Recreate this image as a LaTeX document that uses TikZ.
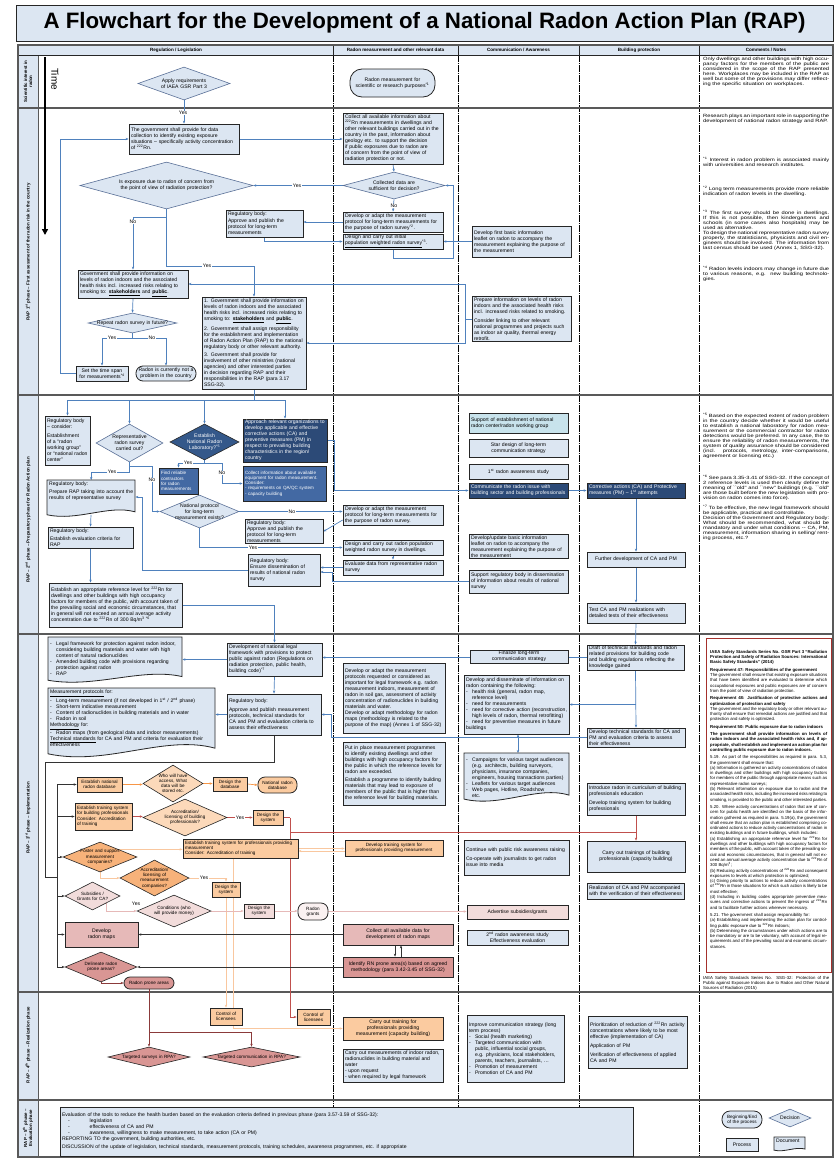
\documentclass[tikz,border=0pt]{standalone}
\usepackage{fontspec}
\setmainfont{Liberation Sans}
\usetikzlibrary{arrows.meta,shapes.geometric,calc}
\definecolor{lb}{HTML}{DCE6F2}
\definecolor{bordc}{HTML}{262626}
\definecolor{arrc}{HTML}{4F81BD}
\definecolor{diab}{HTML}{5A7097}
\definecolor{dkb}{HTML}{2C4A77}
\definecolor{mdb}{HTML}{4369A3}
\definecolor{dkd}{HTML}{34588A}
\definecolor{cyn}{HTML}{C8E3EC}
\definecolor{orf}{HTML}{FBCBA0}
\definecolor{orl}{HTML}{FCD9BA}
\definecolor{ord}{HTML}{F7B27A}
\definecolor{ora}{HTML}{F79646}
\definecolor{orla}{HTML}{F9C79F}
\definecolor{redl}{HTML}{C0504D}
\definecolor{pk1}{HTML}{F2DCDB}
\definecolor{pk2}{HTML}{E6B9B8}
\definecolor{pk3}{HTML}{D99694}
\definecolor{brn}{HTML}{8B3A3A}
\definecolor{rowl}{HTML}{595959}
\definecolor{rbx}{HTML}{A5302C}
\newfontfamily\titlefam{Liberation Sans}
\newfontfamily\cmfam{Liberation Sans}[FakeStretch=1.25]
\hyphenpenalty=10000
\exhyphenpenalty=10000
\newcommand\fs{\fontsize{5.1}{6}\selectfont}
\newcommand\fss{\fontsize{4.6}{5.2}\selectfont}
\newcommand\dfnt{\fs}
\newcommand\fc{\cmfam\fontsize{4.6}{5}\selectfont\hyphenpenalty=50 }
\newcommand\fr{\fontsize{4.3}{5.3}\selectfont\hyphenpenalty=50 }
\newcommand\fph{\fontsize{4.4}{5}\selectfont\bfseries}
\newcommand\fhd{\fontsize{4.6}{5}\selectfont\bfseries}
\newcommand\li{\par\hangindent=6pt\hangafter=1\noindent\makebox[6pt][l]{-}}
\newcommand\bx[7]{%
  \pgfmathsetmacro\bxw{#4-#2}\pgfmathsetmacro\bxh{#5-#3}%
  \pgfmathsetmacro\bxtw{#4-#2-4}%
  \pgfmathsetmacro\bxcx{(#2+#4)/2}\pgfmathsetmacro\bxcy{(#3+#5)/2}%
  \node[#6,minimum width=\bxw pt,minimum height=\bxh pt,text width=\bxtw pt] (#1) at (\bxcx,\bxcy) {#7};}
\newcommand\dm[8]{%
  \pgfmathsetmacro\bxw{#4-#2}\pgfmathsetmacro\bxh{#5-#3}%
  \pgfmathsetmacro\bxcx{(#2+#4)/2}\pgfmathsetmacro\bxcy{(#3+#5)/2}%
  \pgfmathsetmacro\bxa{(#4-#2)/(#5-#3)}%
  \node[dia,#6,minimum width=\bxw pt,minimum height=\bxh pt,aspect=\bxa,
    label={[dtxt,text width=#7pt]center:{#8}}] (#1) at (\bxcx,\bxcy) {};}
\newcommand\dc[7]{%
  \pgfmathsetmacro\bxtw{#4-#2-4}%
  \path[docsh,fill=#6] (#4,#3) -- (#2,#3) -- (#2,{#5-0.06*(#5-#3)})
    .. controls ({#2+0.35*(#4-#2)},{#5+0.12*(#5-#3)}) and ({#2+0.7*(#4-#2)},{#5-0.34*(#5-#3)})
    .. (#4,{#5-0.14*(#5-#3)}) -- cycle;
  \node[anchor=north west,inner sep=2pt,text width=\bxtw pt,align=left] (#1) at (#2,#3) {#7};
  \coordinate (#1-b) at ({(#2+#4)/2},{#5-0.06*(#5-#3)});}
\pgfdeclarelayer{back}
\pgfdeclarelayer{mid}
\pgfsetlayers{back,mid,main}
\begin{document}
\begin{tikzpicture}[x=1pt,y=-1pt,
  every node/.style={font=\fs},
  box/.style={draw=bordc,line width=0.8pt,fill=lb,inner xsep=2pt,inner ysep=1pt,align=left},
  cbox/.style={box,align=center},
  dbox/.style={box,fill=dkb,text=white},
  mbox/.style={box,fill=mdb,text=white},
  obox/.style={box,fill=orf,font=\fss},
  ocbox/.style={cbox,fill=orf,font=\fss},
  pkabox/.style={cbox,fill=pk1},
  pkbbox/.style={cbox,fill=pk2},
  pkcbox/.style={cbox,fill=pk3},
  stad/.style={cbox,rounded corners=#1},
  dia/.style={diamond,draw=diab,line width=0.6pt,fill=lb,inner sep=0pt},
  dtxt/.style={align=center,inner sep=0pt,font=\dfnt},
  docsh/.style={draw=bordc,line width=0.8pt},
  arr/.style={draw=arrc,line width=0.7pt,-{Stealth[length=3pt,width=2.4pt]}},
  ln/.style={draw=arrc,line width=0.7pt},
  oarr/.style={arr,draw=ora},
  rarr/.style={arr,draw=redl},
  rln/.style={draw=redl,line width=0.7pt},
  larr/.style={arr,draw=orla},
  parr/.style={arr,draw=pk2},
  karr/.style={arr,draw=black!80},
  kln/.style={draw=black!80,line width=0.7pt},
  barr/.style={arr,draw=brn},
  bln/.style={draw=brn,line width=0.8pt},
  lbl/.style={fill=white,inner sep=0.5pt,font=\fs},
  cmt/.style={anchor=north west,inner sep=0pt,text width=126pt,align=justify,font=\fc},
  rowline/.style={draw=rowl,line width=1.2pt},
  colline/.style={draw=black,line width=0.7pt,dash pattern=on 7pt off 1pt on 1pt off 1pt},
  phs/.style={rotate=90,font=\fph,align=center},
]
\useasboundingbox (0,0) rectangle (836,1159);
\begin{pgfonlayer}{back}
\fill[white] (0,0) rectangle (836,1159);
\fill[lb] (18,45) rectangle (833,55);
\fill[lb] (18,55) rectangle (38,1157);
\foreach \xx in {333,458,579,699} \draw[colline] (\xx,55) -- (\xx,1157);
\foreach \yy in {108,395,634,992,1100} \draw[rowline] (18,\yy) -- (833,\yy);
\draw[rowl,line width=0.8pt] (38,55) -- (38,1157);
\draw[bordc,line width=0.6pt] (18,55) -- (833,55);
\foreach \xx in {333,458,579,699} \draw[bordc,line width=0.6pt] (\xx,45) -- (\xx,55);
\draw[rowl,line width=1.2pt] (18,45) rectangle (833,1157);
\end{pgfonlayer}
% title and headers
\node[draw=bordc,line width=0.9pt,fill=lb,minimum width=817pt,minimum height=36pt,inner sep=0pt,
  font=\titlefam\fontsize{22.3}{24}\selectfont\bfseries] (title) at (424.5,23) {A Flowchart for the Development of a National Radon Action Plan (RAP)};
\node[font=\fhd] (h1) at (176,50) {Regulation / Legislation};
\node[font=\fhd] (h2) at (395.5,50) {Radon measurement and other relevant data};
\node[font=\fhd] (h3) at (518.5,50) {Communication / Awareness};
\node[font=\fhd] (h4) at (639,50) {Building protection};
\node[font=\fhd] (h5) at (766,50) {Comments / Notes};
% phase labels
\node[phs] (p1) at (28,81.5) {Scientific interest in\\radon};
\node[phs] (p2) at (28,252) {RAP 1\textsuperscript{st} phase -- First assessment of the radon risk in the country};
\node[phs] (p3) at (28,520) {RAP -- 2\textsuperscript{nd} phase -- Preparatory phase for Radon Action plan};
\node[phs] (p4) at (28,818) {RAP -- 3\textsuperscript{rd} phase -- Implementation};
\node[phs] (p5) at (28,1045) {RAP -- 4\textsuperscript{th} phase -- Realization phase};
\node[phs,text width=50pt] (p6) at (28,1128) {RAP -- 5\textsuperscript{th} phase -- Evaluation phase};
% time arrow
\coordinate (t0) at (45,57);
\coordinate (t1) at (45,235);
\draw[line width=2.2pt,-{Triangle[length=6pt,width=6pt]}] (t0) -- (t1);
\node[rotate=-90,font=\fontsize{10}{10}\selectfont] (time) at (55,79) {Time};

% ===== Scientific interest
\dm{A0}{138}{67}{230}{100}{}{56}{Apply requirements of IAEA GSR Part 3}
\bx{S1}{350}{69}{435}{97}{stad=12}{Radon measurement for scientific or research purposes\textsuperscript{*1}}
\node[cmt] (c0) at (703,57) {Only dwellings and other buildings with high occupancy factors for the members of the public are considered in the scope of the RAP presented here. Workplaces may be included in the RAP as well but some of the provisions may differ reflecting the specific situation on workplaces.};

% ===== 1st phase
\bx{G1}{129}{124}{239}{154}{box}{The government shall provide for data collection to identify existing exposure situations -- specifically activity concentration of \textsuperscript{222}Rn.}
\bx{C1}{343}{113}{443}{164}{box}{Collect all available information about \textsuperscript{222}Rn measurements in dwellings and other relevant buildings carried out in the country in the past, information about geology etc. to support the decision if public exposures due to radon are of concern from the point of view of radiation protection or not.}
\dm{D1}{80}{162}{253}{209}{}{106}{Is exposure due to radon of concern from the point of view of radiation protection?}
\dm{D2}{343}{172}{445}{199}{}{68}{Collected data are sufficient for decision?}
\bx{M1}{343}{212}{443}{232}{box}{Develop or adapt the measurement protocol for long-term measurements for the purpose of radon survey\textsuperscript{*2}.}
\bx{M2}{343}{234}{443}{249}{box}{Design and carry out initial \underline{population weighted radon survey}\textsuperscript{*3}.}
\bx{R1}{226}{210}{303}{237}{box}{Regulatory body:\\[1pt]Approve and publish the protocol for long-term measurements}
\bx{CM1}{472}{226}{571}{257}{box}{Develop first basic information leaflet on radon to accompany the measurement explaining the purpose of the measurement}
\bx{G2}{78}{270}{188}{298}{box}{Government shall provide information on levels of radon indoors and the associated health risks incl. increased risks relating to smoking to: \underline{\textbf{stakeholders}} and \underline{\textbf{public}}.}
\dm{D3}{88}{313}{177}{333}{}{76}{Repeat radon survey in future?}
\bx{G4}{76}{366}{128}{381}{cbox}{Set the time span for measurements\textsuperscript{*4}}
\bx{ST1}{136}{366}{196}{381}{stad=7}{Radon is currently not a problem in the country}
\bx{G3}{202}{297}{306}{389}{box}{1. Government shall provide information on levels of radon indoors and the associated health risks incl. increased risks relating to smoking to: \underline{\textbf{stakeholders}} and \underline{\textbf{public}}.\\[2pt]2. Government shall assign responsibility for the establishment and implementation of Radon Action Plan (RAP) to the national regulatory body or other relevant authority.\\[2pt]3. Government shall provide for involvement of other ministries (national agencies) and other interested parties in decision regarding RAP and their responsibilities in the RAP (para 3.17 SSG-32).}
\bx{CM2}{472}{297}{571}{341}{box}{Prepare information on levels of radon indoors and the associated health risks incl. increased risks related to smoking.\\[3pt]Consider linking to other relevant national programmes and projects such as indoor air quality, thermal energy retrofit.}
\node[cmt] (c1) at (703,114) {Research plays an important role in supporting the development of national radon strategy and RAP.};
\node[cmt] (c2) at (703,157) {\textsuperscript{*1} Interest in radon problem is associated mainly with universities and research institutes.};
\node[cmt] (c3) at (703,186) {\textsuperscript{*2} Long term measurements provide more reliable indication of radon levels in the dwelling.};
\node[cmt] (c4) at (703,210) {\textsuperscript{*3} The first survey should be done in dwellings. If this is not possible, then kindergartens and schools (in some cases also hospitals) may be used as alternative.\par To design the national representative radon survey properly, the statisticians, physicists and civil engineers should be involved. The information from last census should be used (Annex 1, SSG-32).};
\node[cmt] (c5) at (703,266) {\textsuperscript{*4} Radon levels indoors may change in future due to various reasons, e.g. new building technologies.};

% ===== 2nd phase
\bx{B1}{45}{416}{90}{465}{box}{Regulatory body -- consider:\\[3pt]Establishment of a ``radon working group'' or ``national radon center''}
\dm{D4}{96}{424}{163}{462}{}{46}{Representative radon survey carried out?}
\dm{D5}{170}{424}{239}{460}{fill=dkd,draw=bordc}{44}{\color{white}Establish National Radon Laboratory?\textsuperscript{*5}}
\bx{B2}{243}{419}{327}{462}{dbox}{Approach relevant organizations to develop applicable and effective corrective actions (CA) and preventive measures (PM) in respect to prevailing building characteristics in the region/ country}
\bx{B3}{159}{468}{198}{494}{mbox,font=\fss}{Find reliable contractors for radon measurements}
\bx{B4}{243}{466}{326}{501}{mbox,font=\fss}{Collect information about available equipment for radon measurement.\\Consider:\\- requirements on QA/QC system\\- capacity building}
\dc{B5}{47}{480}{135}{517}{lb}{Regulatory body:\\[2pt]Prepare RAP taking into account the results of representative survey}
\dm{D6}{160}{495}{239}{528}{}{50}{National protocol for long-term measurement exists?}
\bx{B6}{245}{520}{323}{543}{box}{Regulatory body:\\Approve and publish the protocol for long-term measurements}
\bx{B7}{248}{554}{320}{586}{box}{Regulatory body:\\Ensure dissemination of results of national radon survey}
\bx{B8}{48}{527}{133}{548}{box}{Regulatory body:\\[2pt]Establish evaluation criteria for RAP}
\bx{B9}{49}{583}{182}{627}{box}{Establish an appropriate reference level for \textsuperscript{222}Rn for dwellings and other buildings with high occupancy factors for members of the public, with account taken of the prevailing social and economic circumstances, that in general will not exceed an annual average activity concentration due to \textsuperscript{222}Rn of 300 Bq/m\textsuperscript{3 *6}}
\bx{M3}{343}{505}{443}{525}{box}{Develop or adapt the measurement protocol for long-term measurements for the purpose of radon survey.}
\bx{M4}{343}{540}{443}{555}{box}{Design and carry out radon population weighted radon survey in dwellings.}
\bx{M5}{343}{560}{443}{575}{box}{Evaluate data from representative radon survey}
\bx{CM3}{469}{413}{568}{433}{box,fill=cyn}{Support of establishment of national radon center/radon working group}
\bx{CM4}{469}{439}{568}{457}{cbox}{Star design of long-term communication strategy}
\bx{CM5}{469}{464}{568}{479}{cbox}{1\textsuperscript{st} radon awareness study}
\bx{CM6}{469}{483}{568}{498}{dbox}{Communicate the radon issue with building sector and building professionals}
\bx{CM7}{469}{535}{568}{558}{box}{Develop/update basic information leaflet on radon to accompany the measurement explaining the purpose of the measurement}
\bx{CM8}{469}{570}{568}{593}{box}{Support regulatory body in dissemination of information about results of national survey}
\bx{BP1}{587}{483}{685}{498}{dbox}{Corrective actions (CA) and Protective measures (PM) -- 1\textsuperscript{st} attempts}
\bx{BP2}{587}{552}{685}{567}{cbox}{Further development of CA and PM}
\bx{BP3}{587}{603}{685}{623}{box}{Test CA and PM realizations with detailed tests of their effectiveness}
\node[cmt] (c6) at (703,413) {\textsuperscript{*5} Based on the expected extent of radon problem in the country decide whether it would be useful to establish a national laboratory for radon measurement or the commercial contractor for radon detections would be preferred. In any case, the to ensure the reliability of radon measurements, the system of quality assurance should be considered (incl. protocols, metrology, inter-comparisons, agreement or licensing etc.)};
\node[cmt] (c7) at (703,475) {\textsuperscript{*6} See para 3.35-3.41 of SSG-32. If the concept of 2 reference levels is used then clearly define the meaning of ``old'' and ``new'' buildings (e.g. ``old'' are those built before the new legislation with provision on radon comes into force).};
\node[cmt] (c8) at (703,505) {\textsuperscript{*7} To be effective, the new legal framework should be applicable, practical and controllable.\par Decision of the Government and Regulatory body: What should be recommended, what should be mandatory and under what conditions -- CA, PM, measurement, information sharing in selling/ renting process, etc.?};

% ===== 3rd phase
\dc{L1}{48}{637}{182}{683}{lb}{\li Legal framework for protection against radon indoor, considering building materials and water with high content of natural radionuclides\li Amended building code with provisions regarding protection against radon\li RAP}
\bx{L2}{227}{643}{322}{676}{box}{Development of national legal framework with provisions to protect public against radon (Regulations on radiation protection, public health, building code)\textsuperscript{*7}}
\dc{L3}{48}{688}{215}{758}{lb}{\underline{Measurement protocols} for:\li Long-term measurement (if not developed in 1\textsuperscript{st} / 2\textsuperscript{nd} phase)\li Short-term indicative measurement\li Content of radionuclides in building materials and in water\li Radon in soil\par\noindent\underline{Methodology} for:\li Radon maps (from geological data and indoor measurements)\par\noindent\underline{Technical standards} for CA and PM and criteria for evaluation their effectiveness}
\bx{L4}{227}{694}{321}{735}{box}{Regulatory body:\\[3pt]Approve and publish measurement protocols, technical standards for CA and PM and evaluation criteria to assess their effectiveness}
\bx{L5}{343}{663}{445}{733}{box}{Develop or adapt the measurement protocols requested or considered as important for legal framework e.g. radon measurement indoors, measurement of radon in soil gas, assessment of activity concentration of radionuclides in building materials and water.\\Develop or adapt methodology for radon maps (methodology is related to the purpose of the map) (Annex 1 of SSG-32)}
\bx{L6}{343}{742}{445}{805}{box}{Put in place measurement programmes to identify existing dwellings and other buildings with high occupancy factors for the public in which the reference levels for radon are exceeded.\\[2pt]Establish a programme to identify building materials that may lead to exposure of members of the public that is higher than the reference level for building materials.}
\bx{CMa}{470}{650}{568}{663}{cbox}{Finalize long-term communication strategy}
\bx{CMb}{464}{675}{569}{734}{box}{Develop and disseminate of information on radon containing the following:\li health risk (general, radon map, reference level)\li need for measurements\li need for corrective action (reconstruction, high levels of radon, thermal retrofitting)\li need for preventive measures in future buildings}
\dc{CMc}{464}{753}{569}{802}{lb}{\li Campaigns for various target audiences (e.g. architects, building surveyors, physicians, insurance companies, engineers, housing transactions parties)\li Leaflets for various target audiences\li Web pages, Hotline, Roadshow\par\noindent\hspace{6pt}etc.}
\bx{CMd}{464}{840}{569}{875}{box}{Continue with public risk awareness raising\\[3pt]Co-operate with journalists to get radon issue into media}
\bx{CMe}{467}{905}{568}{919}{pkabox}{Advertise subsidies/grants}
\bx{CMf}{467}{930}{568}{945}{cbox}{2\textsuperscript{nd} radon awareness study\\Effectiveness evaluation}
\bx{BP4}{587}{645}{684}{670}{box}{Draft of technical standards and radon related provisions for building code and building regulations reflecting the knowledge gained}
\bx{BP5}{587}{728}{685}{747}{box}{Develop technical standards for CA and PM and evaluation criteria to assess their effectiveness}
\bx{BP6}{587}{783}{685}{815}{box}{Introduce radon in curriculum of building professionals education\\[3pt]Develop training system for building professionals}
\bx{BP7}{587}{841}{685}{872}{cbox}{Carry out trainings of building professionals (capacity building)}
\bx{BP8}{587}{883}{684}{899}{box}{Realization of CA and PM accompanied with the verification of their effectiveness}
% orange / pink part
\renewcommand\dfnt{\fss}
\bx{O1}{77}{777}{122}{792}{ocbox}{Establish national radon database}
\dm{O2}{143}{765}{203}{802}{fill=orl,draw=bordc}{36}{Who will have access, What data will be stored etc.}
\bx{O3}{213}{777}{247}{791}{ocbox}{Design the database}
\bx{O4}{258}{777}{297}{793}{stad=7,fill=orf,font=\fss}{National radon database}
\bx{O5}{75}{803}{132}{830}{obox}{Establish training system for building professionals\\[1pt]Consider: Accreditation of training}
\dm{O6}{143}{799}{227}{836}{fill=orl,draw=bordc}{48}{Accreditation/ licensing of building professionals?}
\bx{O7}{253}{810}{283}{825}{ocbox}{Design the system}
\dm{O8}{63}{842}{137}{872}{fill=ord,draw=bordc}{42}{Foster and support measurement companies?}
\bx{O9}{183}{839}{298}{858}{obox}{Establish training system for professionals providing measurement\\Consider: Accreditation of training}
\bx{OD}{345}{840}{443}{856}{ocbox}{Develop training system for professionals providing measurement}
\dm{O10}{120}{860}{189}{896}{fill=ord,draw=bordc}{44}{Accreditation/ licensing of measurement companies?}
\bx{O11}{212}{882}{240}{897}{ocbox}{Design the system}
\bx{CL1}{210}{1008}{242}{1025}{ocbox}{Control of licensees}
\bx{CL2}{297}{1009}{330}{1025}{ocbox}{Control of licensees}
\dm{O12}{65}{882}{120}{910}{fill=pk1,draw=bordc}{34}{Subsidies / Grants for CA?}
\dm{O13}{137}{895}{211}{927}{fill=pk1,draw=bordc}{46}{Conditions (who will provide money)}
\bx{O14}{244}{904}{274}{918}{pkabox,font=\fss}{Design the system}
\bx{O15}{298}{903}{328}{920}{stad=7,fill=pk1!40,font=\fss}{Radon grants}
\bx{O16}{65}{922}{138}{947}{pkbbox}{Develop\\radon maps}
\bx{O17}{343}{924}{453}{945}{pkbbox}{Collect all available data for development of radon maps}
\bx{O18}{343}{957}{453}{977}{pkcbox}{Identify RN prone area(s) based on agreed methodology (para 3.42-3.45 of SSG-32)}
\dm{O19}{65}{952}{137}{982}{fill=pk3,draw=bordc}{42}{Delineate radon prone areas?}
\bx{O20}{124}{977}{174}{989}{stad=6,fill=pk3,font=\fss}{Radon prone areas}
% red comment box
\node[draw=rbx,line width=1pt,fill=white,anchor=north west,minimum width=125pt,minimum height=334pt,inner sep=0pt] (rbox) at (706,638) {};
\node[anchor=north west,text width=117pt,align=justify,font=\fr,inner sep=0pt] (rtext) at (710,650) {\textbf{IAEA Safety Standards Series No. GSR Part 3 ``Radiation Protection and Safety of Radiation Sources: International Basic Safety Standards'' (2014)}\par\vspace{2pt}
\textbf{Requirement 47: Responsibilities of the government}\par The government shall ensure that existing exposure situations that have been identified are evaluated to determine which occupational exposures and public exposures are of concern from the point of view of radiation protection.\par\vspace{2pt}
\textbf{Requirement 48: Justification of protective actions and optimization of protection and safety}\par The government and the regulatory body or other relevant authority shall ensure that remedial actions are justified and that protection and safety is optimized.\par\vspace{2pt}
\textbf{Requirement 50: Public exposure due to radon indoors}\par\vspace{2pt}
\textbf{The government shall provide information on levels of radon indoors and the associated health risks and, if appropriate, shall establish and implement an action plan for controlling public exposure due to radon indoors.}\par\vspace{2pt}
5.19. As part of the responsibilities as required in para. 5.3, the government shall ensure that:\par (a) Information is gathered on activity concentrations of radon in dwellings and other buildings with high occupancy factors for members of the public through appropriate means such as representative radon surveys;\par (b) Relevant information on exposure due to radon and the associated health risks, including the increased risks relating to smoking, is provided to the public and other interested parties.\par\vspace{2pt}
5.20. Where activity concentrations of radon that are of concern for public health are identified on the basis of the information gathered as required in para. 5.19(a), the government shall ensure that an action plan is established comprising coordinated actions to reduce activity concentrations of radon in existing buildings and in future buildings, which includes:\par (a) Establishing an appropriate reference level for \textsuperscript{222}Rn for dwellings and other buildings with high occupancy factors for members of the public, with account taken of the prevailing social and economic circumstances, that in general will not exceed an annual average activity concentration due to \textsuperscript{222}Rn of 300 Bq/m\textsuperscript{3};\par (b) Reducing activity concentrations of \textsuperscript{222}Rn and consequent exposures to levels at which protection is optimized;\par (c) Giving priority to actions to reduce activity concentrations of \textsuperscript{222}Rn in those situations for which such action is likely to be most effective;\par (d) Including in building codes appropriate preventive measures and corrective actions to prevent the ingress of \textsuperscript{222}Rn and to facilitate further actions wherever necessary.\par\vspace{2pt}
5.21. The government shall assign responsibility for:\par (a) Establishing and implementing the action plan for controlling public exposure due to \textsuperscript{222}Rn indoors;\par (b) Determining the circumstances under which actions are to be mandatory or are to be voluntary, with account of legal requirements and of the prevailing social and economic circumstances.};
\node[cmt,font=\fr] (c9) at (703,976) {IAEA Safety Standards Series No. SSG-32: Protection of the Public against Exposure Indoors due to Radon and Other Natural Sources of Radiation (2015)};

% ===== 4th phase
\dm{P1}{108}{1047}{190}{1067}{fill=pk3,draw=bordc}{64}{Targeted surveys in RPA?}
\dm{P2}{203}{1047}{300}{1067}{fill=pk3,draw=bordc}{78}{Targeted communication in RPA?}
\renewcommand\dfnt{\fs}
\bx{CT}{343}{1017}{443}{1040}{ocbox,font=\fs}{Carry out training for professionals providing measurement (capacity building)}
\bx{CMM}{343}{1049}{443}{1082}{box}{Carry out measurements of indoor radon, radionuclides in building material and water\\- upon request\\- when required by legal framework}
\bx{CMg}{467}{1015}{564}{1082}{box}{Improve communication strategy (long term process)\li Social (health marketing)\li Targeted communication with public, influential social groups, e.g. physicians, local stakeholders, parents, teachers, journalists, \dots\li Promotion of measurement\li Promotion of CA and PM}
\bx{BP9}{588}{1016}{687}{1068}{box}{Prioritization of reduction of \textsuperscript{222}Rn activity concentrations where likely to be most effective (implementation of CA)\\[3pt]Application of PM\\[3pt]Verification of effectiveness of applied CA and PM}

% ===== 5th phase
\bx{EV}{60}{1107}{633}{1156}{box}{Evaluation of the tools to reduce the health burden based on the evaluation criteria defined in previous phase (para 3.57-3.59 of SSG-32):\\\hspace*{6pt}-\hspace{20pt}legislation\\\hspace*{6pt}-\hspace{20pt}effectiveness of CA and PM\\\hspace*{6pt}-\hspace{20pt}awareness, willingness to make measurement, to take action (CA or PM)\\REPORTING TO the government, building authorities, etc.\\[2pt]DISCUSSION of the update of legislation, technical standards, measurement protocols, training schedules, awareness programmes, etc. if appropriate}
\bx{LG1}{722}{1111}{762}{1128}{stad=8,font=\fss}{Beginning/End of the process}
\dm{LG2}{769}{1109}{811}{1127}{}{30}{Decision}
\bx{LG3}{726}{1138}{758}{1151}{cbox}{Process}
\dc{LG4}{774}{1137}{805}{1151}{lb}{\centering Document}

% ===== connectors
\begin{pgfonlayer}{mid}
\draw[arr] (A0.south) -- (G1.north);
\draw[arr] (G1.east) -- (G1.east -| C1.west);
\draw[arr] (C1.south) -- (D2.north);
\draw[arr] (D2.west) -- (D1.east);
\draw[arr] (D2.south) -- (M1.north);
\draw[arr] (M1.west) -- (M1.west -| R1.east);
\draw[arr] (R1.south) |- (M2.west);
\draw[arr] (M2.south) -- ++(0,9) -| (453,185.5) -- (D2.east);
\draw[arr] (CM1.west) -- (CM1.west -| M2.east);
\draw[arr] (D1.south) -- ++(0,8) -| (G2.north);
\draw[arr] (D1.south) |- (254,266) -- (G3.north);
\coordinate (j0) at (465,319);
\draw[ln] (CM2.west) -- (j0);
\draw[arr] (j0) |- (G2.east);
\draw[arr] (j0) |- (G3.east);
\draw[arr] (G2.south) -- (D3.north);
\draw[arr] (D3.south) -- ++(0,5) -| (G4.north);
\draw[arr] (D3.south) -- ++(0,5) -| (ST1.north);
\draw[arr] (G4.west) -| (60,139) -- (G1.west);
% 2nd
\coordinate (bus2) at (254,400);
\draw[ln] (G3.south) -- (bus2);
\draw[ln] (B1.north |- bus2) -- (B2.north |- bus2);
\draw[arr] (B1.north |- bus2) -- (B1.north);
\draw[arr] (D4.north |- bus2) -- (D4.north);
\draw[arr] (D5.north |- bus2) -- (D5.north);
\draw[arr] (B2.north |- bus2) -- (B2.north);
\draw[arr] (D5.south) -- ++(0,3) -| (B3.north);
\draw[arr] (D5.south) -- ++(0,3) -| (222,483.5) -- (B4.west);
\draw[arr] (D4.south) -- ++(0,10) -| (B5.north);
\draw[arr] (D4.south) -- ++(0,4) -| (152,511.5) -- (D6.west);
\draw[arr] (D6.east) -- (D6.east -| M3.west);
\draw[arr] ([yshift=-5pt]M3.west) -- (B6.east);
\draw[arr] (D6.south) |- (M4.west);
\draw[arr] (M4.south) -- (M5.north);
\draw[arr] (M5.west) -- (M5.west -| B7.east);
\draw[arr] (CM8.west) -| (332,572) -- (B7.east |- 0,572);
\draw[arr] (B7.west) -| (142,497) -- (B5.east |- 0,497);
\draw[arr] (B5-b) -- (B8.north);
\draw[arr] (B8.south) -- (B8.south |- B9.north);
\draw[arr] (B2.east) -- (334,440.5) |- (CM6.west);
\draw[arr] (CM6.east) -- (BP1.west);
\draw[arr] (BP1.south) -- (BP2.north);
\draw[arr] (BP2.south) -- (BP3.north);
\draw[arr] (B9.east) -| (L2.north);
% 3rd
\draw[arr] (L2.west) -- (L2.west -| L1.east);
\draw[arr] (L2.south) -- (L4.north);
\draw[arr] (L4.west) -- (L4.west -| L3.east);
\draw[arr] (BP3.south) -- (BP4.north);
\draw[arr] (BP4.west) -- (BP4.west -| L2.east);
\draw[arr] (BP4.south) -- (BP5.north);
\draw[arr] (BP4.south |- CMb.east) -- (CMb.east);
\coordinate (j1) at (518,737.5);
\draw[arr] (BP5.west) -- (331,737.5) |- (L4.east);
\draw[arr] (j1) -- (j1 |- CMb.south);
\draw[arr] (j1) -- (j1 |- CMc.north);
\draw[kln] (L4.south) |- (45,762) |- (57,877);
\draw[kln] (57,784.5) -- (57,967);
\foreach \n in {O1,O5,O8,O12,O16,O19} \draw[karr] (\n.west -| 57,0) -- (\n.west);
\draw[oarr] (O1.east) -- (O1.east -| O2.west);
\draw[oarr] (O2.east) -- (O2.east -| O3.west);
\draw[oarr] (O3.east) -- (O4.west);
\draw[rarr] (O5.east) -- (O5.east -| O6.west);
\draw[rarr] (O6.east) -- (O6.east -| O7.west);
\draw[rln] (O7.east) -- (290,817.5);
\draw[rarr] (290,817.5) |- (CL2.west);
\draw[rln] (290,832) -- (BP6.south |- 0,832);
\draw[rarr] (BP6.south) -- (BP7.north);
\draw[larr] (O8.north east) -- (O8.north east -| O9.west);
\draw[larr] (O9.east) -- (O9.east -| OD.west);
\draw[larr] ([yshift=-3pt]OD.west) -- ([yshift=-3pt]OD.west -| O9.east);
\draw[larr] (O8.south) |- (O10.west);
\draw[larr] (O10.east) -| (O11.north);
\draw[larr] (O11.south) -- (CL1.north);
\draw[larr] (233,858) -- (233,1028.5) -- (CT.west |- 0,1028.5);
\draw[parr] (O12.south east) |- (O13.west);
\draw[parr] (O13.east) -- (O13.east -| O14.west);
\draw[parr] (O14.east) -- (O14.east -| O15.west);
\draw[parr] (O15.east) -- (O15.east -| CMe.west);
\draw[karr] (O17.west) -- (O17.west -| O16.east);
\draw[karr] ([xshift=-3pt]O17.south) -- ([xshift=-3pt]O18.north);
\draw[karr] ([xshift=3pt]O18.north) -- ([xshift=3pt]O17.south);
\draw[karr] (O18.west) -- (O18.west -| O19.east);
\draw[barr] (O19.south) |- (O20.west);
\draw[bln] (O20.south) -- (149,1032);
\draw[barr] (149,1032) -- (P1.north);
\draw[barr] (149,1032) -| (P2.north);
\end{pgfonlayer}
% labels
\node[lbl] (y0) at (183,113) {Yes};
\node[lbl] (y1) at (297,185.5) {Yes};
\node[lbl] (n1) at (394,206) {No};
\node[lbl] (n2) at (133,222) {No};
\node[lbl] (y2) at (207,266) {Yes};
\node[lbl] (y3) at (112,338) {Yes};
\node[lbl] (n3) at (152,338) {No};
\node[lbl] (y4) at (188,463) {Yes};
\node[lbl] (n4) at (222,473) {No};
\node[lbl] (y5) at (112,472) {Yes};
\node[lbl] (n5) at (152,480) {No};
\node[lbl] (n6) at (292,511.5) {No};
\node[lbl] (y6) at (253,547.5) {Yes};
\node[lbl] (y7) at (240,817.5) {Yes};
\node[lbl] (y8) at (204,878) {Yes};
\node[lbl] (y9) at (136,904) {Yes};
\end{tikzpicture}
\end{document}
